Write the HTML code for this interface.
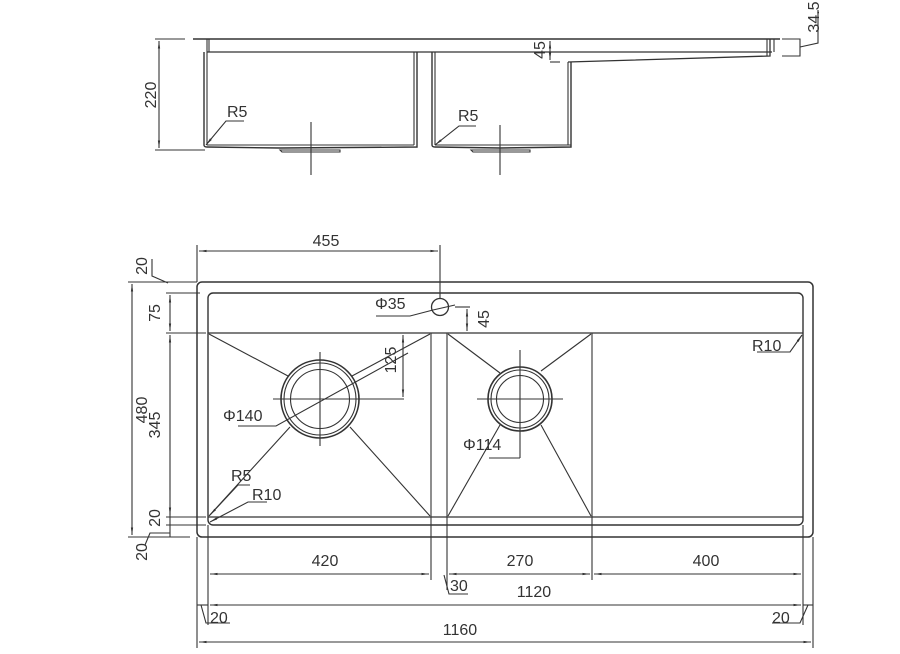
<!DOCTYPE html>
<html><head><meta charset="utf-8"><style>
html,body{margin:0;padding:0;background:#fff;}
svg{display:block;}
text{font-family:"Liberation Sans",sans-serif;font-size:16px;fill:#333;}
</style></head><body>
<svg width="900" height="654" viewBox="0 0 900 654" xmlns="http://www.w3.org/2000/svg">
<defs>
<marker id="a" viewBox="0 0 10 10" refX="10" refY="5" markerWidth="7" markerHeight="7" orient="auto-start-reverse"><path d="M0,3.5 L10,5 L0,6.5z" fill="#333"/></marker>
</defs>
<g stroke="#333" stroke-width="1.1" fill="none">
<line x1="193" y1="39" x2="780" y2="39" stroke-width="1.5"/>
<line x1="207" y1="52" x2="772" y2="52" stroke-width="1.3"/>
<line x1="207" y1="39" x2="207" y2="52"/>
<line x1="209" y1="39" x2="209" y2="52"/>
<path d="M204 52 V145 Q204 147 207 147 L280 148 L417 147 V52" stroke-width="1.4"/>
<line x1="207" y1="52" x2="207" y2="145"/>
<line x1="414" y1="52" x2="414" y2="145"/>
<line x1="207" y1="145" x2="414" y2="145"/>
<path d="M280 150 H340 V152 H282z"/>
<path d="M432 52 V145 Q432 147 435 147 L500 148 L571 147 V62" stroke-width="1.4"/>
<line x1="435" y1="52" x2="435" y2="145"/>
<line x1="568" y1="62" x2="568" y2="145"/>
<line x1="435" y1="145" x2="571" y2="145"/>
<path d="M471 150 H530 V152 H473z"/>
<path d="M568 62 L770 56 V39" stroke-width="1.3"/>
<line x1="767" y1="39" x2="767" y2="56"/>
<line x1="774" y1="39" x2="774" y2="52"/>
<line x1="311" y1="122" x2="311" y2="175"/>
<line x1="500" y1="125" x2="500" y2="175"/>
<line x1="155" y1="39" x2="185" y2="39"/>
<line x1="155" y1="150" x2="205" y2="150"/>
<line x1="159" y1="41" x2="159" y2="148" marker-start="url(#a)" marker-end="url(#a)"/>
<line x1="550" y1="41" x2="550" y2="60" marker-start="url(#a)" marker-end="url(#a)"/>
<line x1="550" y1="62" x2="560" y2="62"/>
<path d="M782 39 H800 V56 H782"/>
<path d="M800 47 L818 43 V10"/>
<path d="M244 121 H226 L206 145" marker-end="url(#a)"/>
<path d="M476 126 H459 L435 145" marker-end="url(#a)"/>

<rect x="197" y="282" width="616" height="255" rx="5" stroke-width="1.5"/>
<rect x="208" y="293" width="595" height="232" rx="5" stroke-width="1.4"/>
<line x1="208" y1="333" x2="803" y2="333" stroke-width="1.3"/>
<line x1="208" y1="517" x2="803" y2="517" stroke-width="1.3"/>
<line x1="431" y1="333" x2="431" y2="517"/>
<line x1="447" y1="333" x2="447" y2="517"/>
<line x1="592" y1="333" x2="592" y2="517"/>
<line x1="209" y1="334" x2="288" y2="376"/>
<line x1="430" y1="334" x2="352" y2="376"/>
<line x1="209" y1="516" x2="290" y2="427"/>
<line x1="430" y1="516" x2="350" y2="427"/>
<circle cx="320" cy="399" r="39" stroke-width="1.6"/>
<circle cx="320" cy="399" r="36"/>
<circle cx="320" cy="399" r="29.5"/>
<line x1="320" y1="352" x2="320" y2="446"/>
<line x1="273" y1="399" x2="404" y2="399"/>
<line x1="448" y1="334" x2="500" y2="373"/>
<line x1="591" y1="334" x2="541" y2="371"/>
<line x1="448" y1="516" x2="500" y2="425"/>
<line x1="591" y1="516" x2="541" y2="425"/>
<circle cx="520" cy="399" r="32" stroke-width="1.6"/>
<circle cx="520" cy="399" r="29"/>
<circle cx="520" cy="399" r="23.5"/>
<line x1="477" y1="399" x2="563" y2="399"/>
<line x1="520" y1="350" x2="520" y2="458"/>
<path d="M489 458 H520" />
<circle cx="440" cy="307" r="8.5" stroke-width="1.3"/>
<line x1="197" y1="245" x2="197" y2="282"/>
<line x1="440" y1="245" x2="440" y2="299"/>
<line x1="199" y1="251" x2="438" y2="251" marker-start="url(#a)" marker-end="url(#a)"/>
<path d="M376 316 H410 L433 310"/>
<line x1="433" y1="310" x2="455" y2="305"/>
<line x1="455" y1="307" x2="470" y2="307"/>
<line x1="467" y1="309" x2="467" y2="331" marker-start="url(#a)" marker-end="url(#a)"/>
<line x1="363" y1="333" x2="407" y2="333"/>
<line x1="403" y1="335" x2="403" y2="397" marker-start="url(#a)" marker-end="url(#a)"/>
<path d="M238 426 H276 L408 353" />
<line x1="128" y1="282" x2="197" y2="282"/>
<line x1="128" y1="537" x2="190" y2="537"/>
<line x1="132" y1="284" x2="132" y2="535" marker-start="url(#a)" marker-end="url(#a)"/>
<line x1="166" y1="293" x2="200" y2="293"/>
<line x1="166" y1="333" x2="206" y2="333"/>
<line x1="166" y1="517" x2="206" y2="517"/>
<line x1="166" y1="525" x2="206" y2="525"/>
<line x1="170" y1="295" x2="170" y2="331" marker-start="url(#a)" marker-end="url(#a)"/>
<line x1="170" y1="335" x2="170" y2="515" marker-start="url(#a)" marker-end="url(#a)"/>
<line x1="170" y1="509" x2="170" y2="537"/>
<path d="M152 259 V276 L168 283"/>
<path d="M145 545 L150 533 L170 533"/>
<path d="M250 485 H238 L210 515" marker-end="url(#a)"/>
<path d="M267 502 H248 L210 522" marker-end="url(#a)"/>
<path d="M757 352 H790 L802 335" marker-end="url(#a)"/>
<line x1="208" y1="525" x2="208" y2="625"/>
<line x1="803" y1="525" x2="803" y2="625"/>
<line x1="197" y1="537" x2="197" y2="648"/>
<line x1="813" y1="537" x2="813" y2="648"/>
<line x1="431" y1="517" x2="431" y2="580"/>
<line x1="447" y1="517" x2="447" y2="590"/>
<line x1="592" y1="517" x2="592" y2="580"/>
<line x1="210" y1="574" x2="429" y2="574" marker-start="url(#a)" marker-end="url(#a)"/>
<line x1="449" y1="574" x2="590" y2="574" marker-start="url(#a)" marker-end="url(#a)"/>
<line x1="594" y1="574" x2="801" y2="574" marker-start="url(#a)" marker-end="url(#a)"/>
<path d="M444 575 L449 594 H468"/>
<line x1="210" y1="605" x2="801" y2="605" marker-start="url(#a)" marker-end="url(#a)"/>
<line x1="197" y1="605" x2="208" y2="605"/>
<line x1="803" y1="605" x2="813" y2="605"/>
<path d="M201 605 L206 623 H230"/>
<path d="M808 605 L800 623 H772"/>
<line x1="199" y1="642" x2="811" y2="642" marker-start="url(#a)" marker-end="url(#a)"/>
</g>
<g>
<text transform="translate(156,95) rotate(-90)" text-anchor="middle">220</text>
<text transform="translate(545,50) rotate(-90)" text-anchor="middle">45</text>
<text transform="translate(819,17) rotate(-90)" text-anchor="middle">34.5</text>
<text x="227" y="117">R5</text>
<text x="458" y="121">R5</text>
<text x="326" y="246" text-anchor="middle">455</text>
<text transform="translate(147,266) rotate(-90)" text-anchor="middle">20</text>
<text transform="translate(160,313) rotate(-90)" text-anchor="middle">75</text>
<text transform="translate(147,410) rotate(-90)" text-anchor="middle">480</text>
<text transform="translate(160,425) rotate(-90)" text-anchor="middle">345</text>
<text transform="translate(160,518) rotate(-90)" text-anchor="middle">20</text>
<text transform="translate(147,552) rotate(-90)" text-anchor="middle">20</text>
<text x="375" y="309">Φ35</text>
<text transform="translate(489,319) rotate(-90)" text-anchor="middle">45</text>
<text transform="translate(396,360) rotate(-90)" text-anchor="middle">125</text>
<text x="223" y="421">Φ140</text>
<text x="463" y="450">Φ114</text>
<text x="752" y="351">R10</text>
<text x="231" y="481">R5</text>
<text x="252" y="500">R10</text>
<text x="325" y="566" text-anchor="middle">420</text>
<text x="520" y="566" text-anchor="middle">270</text>
<text x="706" y="566" text-anchor="middle">400</text>
<text x="450" y="591">30</text>
<text x="534" y="597" text-anchor="middle">1120</text>
<text x="210" y="623">20</text>
<text x="772" y="623">20</text>
<text x="460" y="635" text-anchor="middle">1160</text>
</g>
</svg>
</body></html>
